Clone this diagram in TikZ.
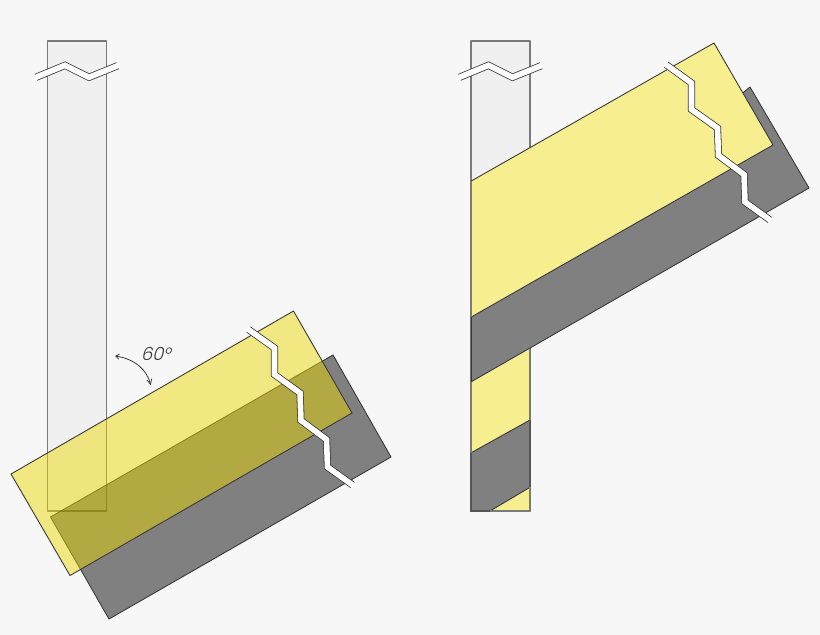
\documentclass[tikz,border=0pt]{standalone}
\usepackage{fontspec}
\setmainfont{TeX Gyre Heros}
\newfontfamily\anglefont[FakeSlant=0.25]{Poppins Light}
\usetikzlibrary{arrows.meta}
\definecolor{bgc}{HTML}{F7F7F7}
\definecolor{colc}{HTML}{F0F0F0}
\definecolor{colline}{HTML}{7A7A7A}
\definecolor{alphay}{RGB}{238,217,0}
\definecolor{flaty}{HTML}{F6EE8F}
\definecolor{greyc}{HTML}{808080}
\definecolor{edgec}{HTML}{3A3A3A}
\tikzset{
  columnfill/.style={fill=colc},
  columnstroke/.style={draw=black,draw opacity=.5,line width=1.3pt,line join=round},
  column/.style={fill=colc,draw=colline,line width=1.3pt,line join=round},
  columnline/.style={draw=colline,line width=1.3pt,line join=round},
  greyplate/.style={fill=greyc,draw=edgec,line width=.9pt,line join=round},
  yellowalpha/.style={fill=alphay,fill opacity=.47,draw=edgec,line width=.9pt,line join=round},
  yellowflat/.style={fill=flaty,draw=edgec,line width=.9pt,line join=round},
  breakout/.style={draw=edgec,line width=7.2pt,line join=miter},
  breakin/.style={draw=white,line width=5.6pt,line join=miter},
  anglearrow/.style={draw=edgec,line width=.8pt,{Straight Barb[length=3.5pt,width=5pt]}-{Straight Barb[length=5pt,width=5pt]}},
  anglelabel/.style={font=\anglefont\fontsize{18}{20}\selectfont,text=edgec,inner sep=0pt}
}
\newcommand{\topbreak}[1]{%
  \begin{scope}[shift={(#1,0)}]
    \draw[breakout] (36,77.3) -- (65,65.3) -- (89,77.3) -- (117.7,65.7);
    \draw[breakin] (34.5,77.9) -- (65,65.3) -- (89,77.3) -- (119.2,65.1);
  \end{scope}}
\begin{document}
\begin{tikzpicture}[x=1pt,y=-1pt]
\fill[bgc] (0,0) rectangle (820,635);
\useasboundingbox (0,0) rectangle (820,635);
% left
\fill[columnfill] (47.5,41) rectangle (106.5,511);
\draw[greyplate] (333,355) -- (391,457) -- (109,619) -- (50.5,517) -- cycle;
\draw[columnstroke] (47.5,41) rectangle (106.5,511);
\draw[yellowalpha] (293.5,311) -- (352,413) -- (70,575.5) -- (11,474) -- cycle;
\topbreak{0}
\draw[breakout] (248.5,329.5) -- (274.5,348) -- (274.5,374.5) -- (300,393) -- (301,420.5) -- (326.5,439.5) -- (327.5,467) -- (352.5,485);
\draw[breakin] (247.2,328.6) -- (274.5,348) -- (274.5,374.5) -- (300,393) -- (301,420.5) -- (326.5,439.5) -- (327.5,467) -- (353.8,485.9);
\draw[anglearrow] (115,356) .. controls (135,359) and (147,370) .. (150.7,385);
\node[anglelabel] (angle) at (155.5,353.5) {60°};
% right
\draw[column] (471,41) rectangle (530,511);
\fill[flaty] (471,381.7) -- (530,349.3) -- (530,511) -- (471,511) -- cycle;
\draw[greyplate] (750,87) -- (809,188) -- (471.3,381.7) -- (471.3,317) -- cycle;
\draw[yellowflat] (471.3,181) -- (714,43) -- (773,145) -- (471.3,317);
\draw[greyplate] (471.3,452.7) -- (530,420) -- (530,487.3) -- (490,511) -- (471.3,511) -- cycle;
\draw[columnline] (471,181) -- (471,317);
\draw[columnline] (530,349.3) -- (530,420);
\draw[columnline] (471,381.7) -- (471,452.7);
\draw[columnline] (490,511) -- (530,511) -- (530,487.3);
\draw[colline!70!black,line width=1.3pt] (471,453) -- (471,511) -- (490,511);
\draw[colline!70!black,line width=1.1pt] (530,420) -- (530,487.3);
\topbreak{423.5}
\draw[breakout] (666,64.5) -- (691.5,83) -- (691.5,109.5) -- (717.5,128) -- (718.5,155.5) -- (744,174.5) -- (745,202) -- (770,220);
\draw[breakin] (664.7,63.6) -- (691.5,83) -- (691.5,109.5) -- (717.5,128) -- (718.5,155.5) -- (744,174.5) -- (745,202) -- (771.3,220.9);
\end{tikzpicture}
\end{document}
